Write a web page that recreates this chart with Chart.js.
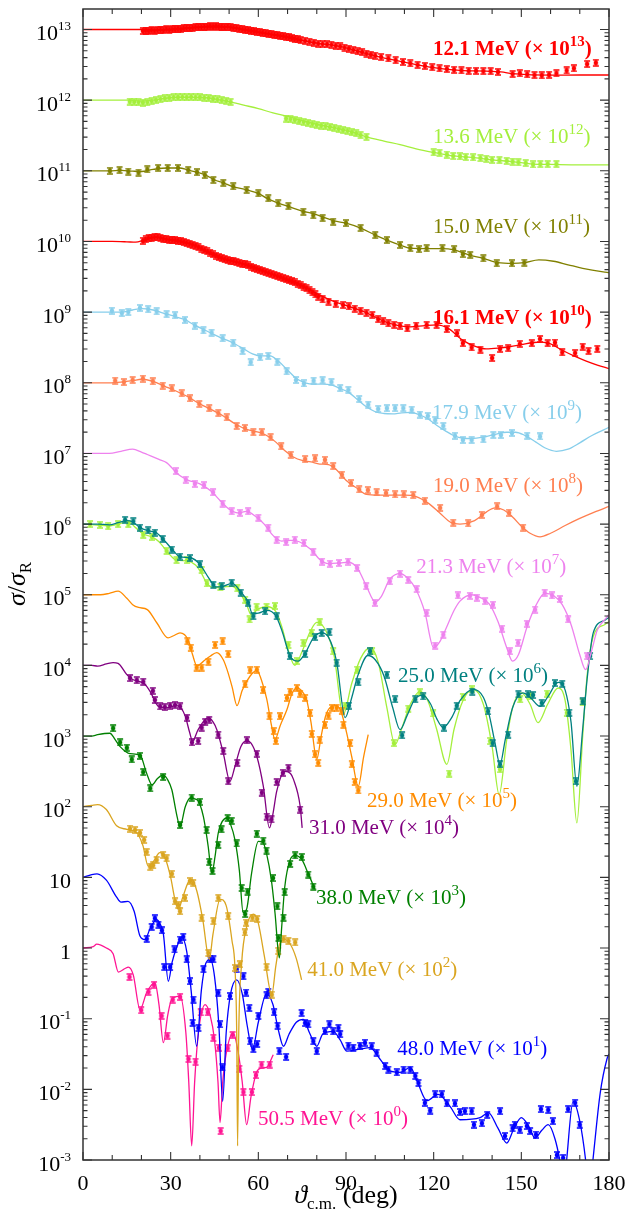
<!DOCTYPE html>
<html>
<head>
<meta charset="utf-8">
<script src="https://cdn.jsdelivr.net/npm/chart.js@4.4.1/dist/chart.umd.min.js"></script>
<style>
  html, body { margin: 0; padding: 0; background: #fff; }
  canvas { display: block; }
</style>
</head>
<body>
<canvas id="chart" width="626" height="1218"></canvas>
<script>
// all values: [angle (deg), log10 of plotted sigma/sigma_R, already multiplied by the series factor]

const xTicks = [0, 30, 60, 90, 120, 150, 180];
const yTickExps = [13, 12, 11, 10, 9, 8, 7, 6, 5, 4, 3, 2, 1, 0, -1, -2, -3];

const energies = ['12.1', '13.6', '15.0', '16.1', '17.9', '19.0', '21.3', '25.0', '29.0', '31.0', '38.0', '41.0', '48.0', '50.5'];
const factorExps = [13, 12, 11, 10, 9, 8, 7, 6, 5, 4, 3, 2, 1, 0];

// 12.1 MeV (x 10^13)
const fit121 = [[0,13.0],[10,13.0],[20,13.0],[25,12.995],[29,13.0],[35,13.02],[42,13.04],[48,13.04],[53,13.015],[56,12.99],[63,12.94],[70,12.89],[74,12.855],[81,12.80],[86,12.775],[92,12.72],[97,12.66],[105,12.58],[112,12.52],[120,12.46],[129,12.42],[138,12.41],[143,12.40],[147,12.375],[152,12.36],[160,12.355],[170,12.356],[180,12.356]];
const dat121 = [[20.5,12.98],[21.5,12.985],[22.5,12.98],[23.5,12.99],[24.5,12.985],[25.5,12.99],[26.5,12.995],[27.5,12.99],[28.5,13.0],[29.5,12.995],[30.5,13.0],[31.5,13.005],[32.5,13.01],[33.5,13.005],[34.5,13.015],[35.5,13.02],[36.5,13.02],[37.5,13.025],[38.5,13.03],[39.5,13.03],[40.5,13.035],[41.5,13.04],[42.5,13.04],[43.5,13.045],[44.5,13.04],[45.5,13.045],[46.5,13.04],[47.5,13.04],[48.5,13.035],[49.5,13.04],[50.5,13.03],[51.5,13.025],[52.5,13.02],[53.5,13.01],[54.5,13.0],[55.5,12.995],[56.5,12.99],[57.5,12.98],[58.5,12.975],[59.5,12.97],[60.5,12.96],[61.5,12.955],[62.5,12.945],[63.5,12.94],[64.5,12.93],[65.5,12.925],[66.5,12.92],[67.5,12.91],[68.5,12.905],[69.5,12.895],[70.5,12.89],[71.5,12.88],[72.5,12.87],[73.5,12.86],[74.5,12.85],[76,12.84],[77.5,12.83],[79,12.815],[80.5,12.80],[82,12.795],[83.5,12.79],[85,12.785],[86.5,12.77],[88,12.76],[89.5,12.745],[91,12.73],[92.5,12.71],[94,12.69],[95.5,12.68],[97,12.66],[98.5,12.645],[100,12.63],[102,12.61],[104.5,12.59],[107,12.565],[109.5,12.54],[112,12.52],[114.5,12.50],[117,12.485],[119.5,12.465],[122,12.45],[124.5,12.44],[127,12.43],[129.5,12.42],[132,12.415],[134.5,12.415],[137,12.41],[139.5,12.41],[142,12.40],[147,12.37],[149.5,12.38],[152,12.365],[154.5,12.355],[157,12.35],[159.5,12.36],[162,12.38],[165.5,12.42],[168,12.45],[172.5,12.51],[175.5,12.53]];

// 13.6 MeV (x 10^12)
const fit136 = [[0,12.0],[10,12.0],[16,12.0],[20,11.985],[24,12.0],[28,12.025],[32,12.04],[37,12.04],[42,12.035],[47,12.0],[50,11.98],[55,11.93],[60,11.88],[65,11.82],[70,11.77],[75,11.71],[81,11.65],[86,11.61],[92,11.55],[97,11.48],[103,11.42],[108.5,11.37],[114,11.31],[120,11.26],[127,11.21],[133,11.19],[140,11.155],[147,11.13],[154,11.095],[160,11.09],[170,11.085],[180,11.085]];
const dat136 = [[16,11.98],[17.5,11.975],[19,11.97],[20.5,11.965],[22,11.97],[23.5,11.985],[25,12.0],[26.5,12.015],[28,12.025],[29.5,12.035],[31,12.04],[32.5,12.04],[34,12.045],[35.5,12.04],[37,12.045],[38.5,12.04],[40,12.04],[41.5,12.035],[43,12.03],[44.5,12.02],[46,12.01],[47.5,12.0],[49,11.99],[50.5,11.975],[69.5,11.74],[71,11.73],[72.5,11.72],[74,11.70],[75.5,11.69],[77,11.68],[78.5,11.665],[80,11.65],[81.5,11.64],[83,11.63],[84.5,11.62],[86,11.61],[87.5,11.59],[89,11.575],[90.5,11.565],[92,11.545],[93.5,11.53],[95,11.505],[97,11.48],[120,11.26],[122,11.255],[124.5,11.23],[126.7,11.21],[129,11.205],[131,11.195],[133.5,11.19],[136,11.18],[138,11.17],[140,11.155],[142.5,11.15],[145,11.14],[147,11.13],[149,11.12],[151.5,11.11],[154,11.09],[156.5,11.095],[159,11.095],[162,11.095]];

// 15.0 MeV (x 10^11)
const fit150 = [[0,11.0],[9,11.0],[13,11.005],[17,10.995],[20,10.99],[24,11.02],[29,11.04],[33,11.04],[36,11.01],[39,10.98],[42,10.94],[45,10.87],[48,10.83],[51,10.78],[56,10.73],[60,10.68],[63,10.61],[67,10.54],[70,10.50],[75,10.43],[79,10.39],[86,10.29],[90,10.26],[95,10.19],[100,10.09],[104,10.02],[108.5,9.95],[112,9.905],[117,9.9],[123,9.9],[127,9.88],[132,9.81],[137,9.76],[142,9.70],[147,9.69],[151,9.70],[156,9.74],[161,9.72],[166,9.67],[171,9.62],[178,9.57],[180,9.56]];
const dat150 = [[9.2,11.0],[12.5,11.01],[15.5,10.99],[19,10.976],[22,11.02],[25.7,11.04],[29,11.04],[32.5,11.04],[36,11.01],[39,10.98],[41.7,10.94],[44.6,10.87],[48,10.83],[51.4,10.78],[56,10.73],[60,10.68],[63.4,10.61],[66.8,10.54],[70.3,10.50],[75.4,10.42],[78.8,10.37],[82,10.33],[85.6,10.28],[90,10.26],[95,10.19],[100,10.09],[104,10.02],[108.5,9.95],[112,9.905],[115,9.89],[117.6,9.905],[123,9.905],[127,9.89],[130,9.82],[132.5,9.81],[137,9.76],[141.6,9.69],[146.8,9.69],[151,9.70]];

// 16.1 MeV (x 10^10)
const fit161 = [[0,10.0],[10,10.0],[15,9.995],[18,9.99],[21,10.02],[25,10.06],[29,10.03],[33,10.0],[38,9.95],[42,9.86],[47,9.77],[51,9.72],[56,9.67],[62,9.58],[67,9.50],[73,9.41],[78,9.31],[81,9.24],[86,9.15],[91,9.08],[97,8.99],[103,8.87],[108,8.81],[112,8.79],[117,8.81],[121,8.82],[125,8.77],[130,8.60],[134,8.52],[138,8.48],[142,8.49],[146,8.51],[150,8.54],[154,8.57],[157,8.575],[160,8.55],[164,8.46],[168,8.38],[172,8.31],[176,8.25],[180,8.20]];
const dat161 = [[20.5,10.01],[21.5,10.03],[22.5,10.05],[23.5,10.055],[24.5,10.06],[25.5,10.06],[26.5,10.05],[27.5,10.04],[28.5,10.03],[29.5,10.025],[30.5,10.02],[31.5,10.015],[32.5,10.01],[33.5,10.0],[34.5,9.99],[35.5,9.98],[36.5,9.97],[37.5,9.955],[38.5,9.94],[39.5,9.92],[40.5,9.90],[41.5,9.88],[42.5,9.86],[43.5,9.84],[44.5,9.82],[45.5,9.80],[46.5,9.78],[47.5,9.765],[48.5,9.75],[49.5,9.74],[50.5,9.73],[51.5,9.72],[52.5,9.71],[53.5,9.70],[54.5,9.685],[55.5,9.675],[56.5,9.66],[57.5,9.645],[58.5,9.63],[59.5,9.615],[60.5,9.60],[61.5,9.585],[62.5,9.57],[63.5,9.555],[64.5,9.54],[65.5,9.525],[66.5,9.51],[67.5,9.50],[68.5,9.48],[69.5,9.465],[70.5,9.45],[71.5,9.435],[72.5,9.42],[73.5,9.40],[74.5,9.38],[75.5,9.36],[76.5,9.34],[77.5,9.31],[78.5,9.28],[79.5,9.25],[80.5,9.22],[82,9.18],[84,9.15],[86.5,9.12],[89,9.10],[91,9.08],[93,9.05],[95,9.02],[97,8.99],[99,8.96],[101,8.90],[102.7,8.87],[104.5,8.84],[106.5,8.82],[108.5,8.81],[111,8.77],[114,8.81],[117.6,8.82],[121,8.82],[124.5,8.76],[128,8.70],[130,8.56],[133,8.50],[136,8.47],[140,8.35],[142.7,8.48],[145.5,8.49],[149.5,8.55],[153.6,8.56],[156.4,8.62],[159,8.56],[161.5,8.57],[164,8.43],[168.4,8.42],[171,8.51],[173,8.45],[176,8.48]];

// 17.9 MeV (x 10^9)
const fit179 = [[0,9.0],[9,9.0],[13,9.0],[17,9.03],[20,9.05],[24,9.03],[28,8.98],[32,8.93],[35,8.89],[38,8.82],[42,8.74],[47,8.64],[51,8.57],[55,8.48],[58,8.41],[61,8.38],[64,8.38],[67,8.30],[70,8.18],[73,8.06],[76,8.0],[79,7.98],[82,7.98],[85,7.97],[88,7.92],[91,7.86],[94,7.76],[97,7.66],[100,7.59],[103,7.565],[106,7.56],[109,7.575],[112,7.58],[115,7.55],[118,7.49],[121,7.40],[124,7.32],[127,7.25],[130,7.215],[133,7.21],[137,7.23],[141,7.27],[145,7.30],[148,7.30],[151,7.26],[155,7.16],[158,7.08],[162,7.03],[166,7.06],[170,7.15],[174,7.25],[178,7.33],[180,7.37]];
const dat179 = [[9.9,9.02],[13.3,8.985],[15.5,9.0],[19.5,9.06],[22.3,9.04],[25.2,9.01],[28.6,8.97],[31.5,8.955],[34.9,8.89],[38.3,8.81],[41.2,8.74],[44,8.71],[47.8,8.63],[51.4,8.57],[54.6,8.45],[57.4,8.29],[60.6,8.36],[63.4,8.38],[66.5,8.30],[69.7,8.16],[72.9,8.04],[75.6,7.99],[78.9,8.03],[82,8.035],[85,8.01],[88,7.925],[90.8,7.90],[94.5,7.77],[97.6,7.69],[101,7.63],[104,7.64],[106.8,7.64],[109.6,7.64],[112.5,7.62],[115.3,7.55],[118,7.53],[120.5,7.47],[123.3,7.39],[127.3,7.25],[130,7.19],[133,7.19],[137,7.20],[140.4,7.26],[143,7.26],[146.8,7.29],[152,7.25],[156.4,7.24]];

// 19.0 MeV (x 10^8)
const fit190 = [[0,8.0],[9,8.0],[13,8.01],[17,8.03],[20,8.05],[24,8.02],[28,7.95],[32,7.88],[36,7.80],[40,7.70],[44,7.62],[48,7.53],[52,7.42],[56,7.34],[60,7.30],[63,7.25],[66,7.16],[69,7.04],[72,6.95],[75,6.90],[78,6.88],[81,6.85],[84,6.84],[87,6.76],[90,6.62],[94,6.50],[97,6.42],[101,6.41],[106,6.41],[110,6.41],[114,6.39],[118,6.30],[122,6.16],[126,6.02],[129,6.0],[134,6.05],[138,6.17],[141,6.23],[144,6.20],[147,6.10],[150,5.97],[153,5.87],[156.4,5.82],[160,5.87],[165,5.98],[170,6.08],[175,6.17],[180,6.25]];
const dat190 = [[11,8.03],[14,8.01],[17,8.04],[20.5,8.06],[23.9,8.02],[27.3,7.96],[30.4,7.92],[33.8,7.85],[36.6,7.78],[39.8,7.70],[43.2,7.64],[46.3,7.57],[49.2,7.51],[52.6,7.39],[55.4,7.36],[58.3,7.30],[61.2,7.30],[64.2,7.23],[67.8,7.10],[71.1,6.98],[76,6.92],[79.4,6.93],[82.8,6.91],[85.6,6.82],[88.6,6.70],[91.7,6.58],[94.5,6.49],[97.5,6.48],[100.5,6.45],[103.7,6.44],[106.8,6.42],[109.8,6.42],[113,6.41],[117,6.33],[122.2,6.23],[126.7,6.02],[131.8,6.01],[136.5,6.13],[141.7,6.25],[145.8,6.16],[150.6,5.95]];

// 21.3 MeV (x 10^7)
const fit213 = [[0,7.0],[9,7.0],[13,7.03],[17,7.06],[20,7.02],[22,6.985],[26,6.915],[28.6,6.87],[31,6.77],[33,6.69],[36,6.62],[40,6.57],[44,6.46],[47,6.33],[50,6.21],[53,6.16],[56,6.18],[59,6.11],[62,6.0],[65,5.84],[68,5.76],[71,5.77],[74,5.75],[78,5.64],[81,5.50],[84,5.44],[88,5.45],[91,5.46],[94,5.37],[97,5.12],[100,4.90],[102,4.97],[105,5.22],[108.5,5.30],[111,5.24],[114,5.07],[117,4.75],[120,4.25],[122,4.33],[124,4.50],[127,4.78],[129,4.91],[133,5.0],[136,4.96],[139,4.87],[142,4.62],[145,4.25],[147,4.06],[149,4.15],[152,4.55],[155,4.85],[158,5.02],[161,4.99],[164,4.86],[167,4.58],[170,4.15],[172,3.94],[174,4.2],[176,4.5],[178.6,4.65],[180,4.72]];
const dat213 = [[31.8,6.75],[35.2,6.63],[38.3,6.57],[41.4,6.55],[44.5,6.45],[47.8,6.29],[50.9,6.18],[53.7,6.16],[56.5,6.18],[60,6.09],[63.4,5.95],[66.3,5.78],[69.5,5.745],[72.5,5.78],[75.6,5.735],[78.8,5.61],[81.8,5.47],[84.5,5.44],[87.6,5.45],[90.7,5.47],[93.8,5.38],[96.9,5.12],[99.9,4.885],[105,5.19],[108.5,5.30],[111.3,5.21],[114.2,5.08],[117.6,4.74],[120.5,4.28],[123.3,4.435],[128.3,4.99],[132.4,4.985],[134.8,4.96],[137.6,4.91],[140.3,4.86],[143.4,4.52],[146.1,4.20],[148.9,4.32],[151.9,4.59],[154.7,4.79],[158,5.03],[160.5,4.99],[163.2,4.94],[166,4.65],[172.5,4.13]];

// 25.0 MeV (x 10^6), teal set
const fit250 = [[0,6.0],[5,6.0],[9,5.99],[12,6.02],[15,6.05],[17,6.03],[19.5,5.95],[23,5.90],[25,5.88],[28,5.76],[31,5.62],[33,5.54],[37,5.52],[40,5.43],[43,5.24],[45.5,5.11],[48,5.12],[51,5.16],[54,5.04],[56.5,4.90],[58,4.73],[60,4.74],[63,4.78],[66,4.70],[68,4.50],[71,4.12],[73.6,4.06],[76,4.17],[79,4.40],[81.7,4.46],[84,4.40],[86.8,4.05],[89.7,3.26],[92,3.55],[94,3.85],[97.5,4.14],[100,4.08],[103,3.85],[106,3.40],[108.5,3.09],[111,3.30],[113.5,3.52],[116.3,3.58],[119,3.45],[121,3.25],[123.3,3.12],[126,3.25],[129,3.50],[133.5,3.66],[137,3.55],[139,3.30],[141,2.90],[142.7,2.60],[144.5,2.95],[147,3.40],[150.5,3.61],[153,3.55],[156.4,3.42],[159,3.55],[162.6,3.76],[165,3.65],[167,3.20],[169,2.29],[171,3.10],[172.5,3.80],[174.6,4.46],[178.6,4.64],[180,4.68]];
const dat250 = [[14.4,6.06],[17.2,6.04],[19.5,5.95],[22.3,5.91],[24.6,5.88],[27.3,5.79],[30.4,5.64],[33.2,5.54],[36.6,5.52],[40,5.43],[44.6,5.14],[47.5,5.12],[50.9,5.17],[54,5.03],[56.5,4.89],[58.3,4.695],[62.3,4.765],[66.3,4.695],[70.8,4.13],[76,4.16],[79.4,4.40],[81.7,4.46],[84.3,4.47],[86.8,4.04],[91,3.43],[94.2,3.76],[98.2,4.20],[104,3.87],[106.8,3.52],[109.2,3.01],[113.7,3.52],[116.4,3.56],[123.5,3.12],[127.9,3.43],[133.2,3.63],[138.6,3.35],[140.2,2.90],[142.7,2.60],[145.5,3.02],[149,3.59],[152.3,3.59],[154,3.58],[157,3.47],[161.5,3.75],[164,3.74],[166.4,3.33],[168.7,2.36],[171,3.49],[173.5,4.13]];

// 25.0 MeV (x 10^6), second (light green) set
const fit250b = [[0,6.0],[5,5.985],[9,5.975],[12,6.0],[15.5,6.03],[18,5.95],[20.6,5.86],[23.6,5.82],[26,5.75],[28.6,5.62],[32,5.49],[35.6,5.48],[38.5,5.42],[40.6,5.30],[42.4,5.16],[45,5.10],[48,5.11],[51,5.12],[53,5.06],[56,4.86],[57.5,4.72],[60,4.80],[63,4.83],[66,4.76],[68,4.55],[70,4.25],[72.5,4.0],[75,4.20],[78,4.50],[80,4.61],[83,4.50],[86,4.12],[89,3.30],[92,3.75],[95,4.10],[98.2,4.25],[101,4.05],[104,3.40],[106.8,2.88],[109,3.10],[112,3.45],[115.3,3.63],[118,3.50],[121,3.10],[124.5,2.60],[127,3.10],[130,3.50],[133.5,3.66],[137,3.45],[140,2.85],[142.4,2.17],[145,2.95],[147,3.40],[150,3.61],[153,3.45],[155.7,3.19],[159,3.45],[162.6,3.68],[165,3.50],[167,2.80],[169,1.77],[171,3.00],[172.5,3.85],[174.6,4.41],[178.6,4.58],[180,4.62]];
const dat250b = [[2.4,6.0],[5.8,5.99],[8.6,5.97],[12,6.0],[15.5,6.0],[20.6,5.85],[23.6,5.82],[28.6,5.62],[32,5.49],[35.6,5.49],[40.6,5.35],[42.4,5.16],[47,5.11],[52.8,5.09],[55.5,4.93],[57,4.65],[59.4,4.83],[62.8,4.83],[65.7,4.84],[70.3,4.29],[73.2,4.06],[75.4,4.32],[78.3,4.46],[81,4.61],[85.6,4.20],[89.7,3.43],[93.8,3.94],[98.9,4.20],[106.4,2.90],[111.3,3.39],[115.3,3.62],[119.8,3.32],[125.3,2.47],[130,3.555],[133.1,3.66],[139.3,2.93],[142.7,2.53],[149.6,3.52],[153,3.57],[158.8,3.60],[165.6,3.33],[171,3.48]];

// 29.0 MeV (x 10^5)
const fit290 = [[0,5.0],[6,5.0],[9,5.02],[12,5.05],[15,4.95],[17,4.86],[19,4.82],[22,4.79],[25.3,4.60],[29.1,4.39],[31,4.42],[33.2,4.46],[36,4.36],[37.5,4.15],[39,3.99],[41,4.05],[43.5,4.13],[45.8,4.18],[48,4.08],[49.3,3.94],[51,3.70],[52.7,3.43],[54.5,3.65],[57.2,3.85],[59.5,3.93],[61,3.80],[62.9,3.52],[64.5,3.15],[65.7,2.95],[67.5,3.15],[69.8,3.375],[71.5,3.60],[73.2,3.68],[75,3.63],[76.5,3.52],[78,3.2],[80,2.67],[81.5,3.0],[83,3.28],[84.5,3.40],[86.8,3.43],[88.5,3.32],[90.2,3.05],[92,2.70],[94.2,2.29],[96,2.70],[97.6,3.02]];
const dat290 = [[35.7,4.34],[36.9,4.25],[38.9,3.97],[40.6,3.97],[42.9,4.05],[45.2,4.29],[47.8,4.34],[49.7,4.16],[55.5,3.73],[57.2,3.93],[59.5,3.94],[61.6,3.65],[63.8,3.28],[65.3,3.07],[66,2.93],[67.4,3.28],[69.8,3.54],[70.9,3.63],[73.2,3.68],[74.3,3.60],[76,3.54],[77.7,3.33],[78.3,3.03],[79.4,2.74],[80.5,2.62],[81,2.95],[82.8,3.16],[84,3.29],[85.2,3.40],[86.8,3.40],[88.6,3.36],[89.1,3.16],[91.4,2.90],[92,2.60],[93,2.35],[94.2,2.23]];

// 31.0 MeV (x 10^4)
const fit310 = [[0,4.0],[3,4.0],[5,3.99],[8,4.02],[10.3,4.04],[12,4.03],[15,3.87],[17,3.80],[19.5,3.77],[21,3.74],[23,3.63],[25.8,3.42],[28.6,3.40],[32,3.43],[33.5,3.40],[35,3.28],[36.5,3.05],[37.5,2.93],[39.4,3.09],[42.9,3.26],[44.5,3.20],[45.8,3.09],[48,2.76],[50.3,2.36],[52,2.57],[54,2.85],[56,2.93],[57.5,2.90],[59.5,2.71],[61.7,2.29],[63.8,1.70],[65,1.90],[66.3,2.22],[69.1,2.50],[71,2.47],[72,2.39],[74.3,2.01],[75,1.70]];
const dat310 = [[16.1,3.82],[18.4,3.79],[20.6,3.77],[23.9,3.64],[24.6,3.51],[26.4,3.42],[28,3.41],[29.8,3.43],[31.5,3.44],[33.2,3.42],[35.6,3.26],[37.3,2.91],[39.4,2.93],[40.6,3.12],[41.8,3.20],[43.2,3.23],[46.3,3.02],[48,2.79],[49.7,2.36],[52.8,2.62],[56.1,2.94],[59.5,2.75],[61.2,2.20],[62.9,1.86],[64.5,1.82],[66.3,2.35],[68.4,2.48],[70.3,2.55],[74.3,1.96]];

// 38.0 MeV (x 10^3)
const fit380 = [[0,3.0],[3,3.0],[5,3.02],[9.2,3.04],[11,2.95],[12.7,2.85],[16.1,2.75],[19.5,2.73],[21.8,2.47],[23.6,2.31],[25.5,2.40],[27.4,2.45],[29,2.38],[30.4,2.24],[32,1.90],[33.2,1.72],[35,2.0],[36.6,2.12],[39,2.10],[41.2,1.86],[42.8,1.45],[44.1,1.06],[45.2,1.30],[46.3,1.63],[49.2,1.84],[50.5,1.75],[52,1.53],[53.5,1.10],[54.8,0.50],[56,0.55],[57.7,1.06],[60,1.51],[61.5,1.50],[62.8,1.34],[64.5,0.95],[65.7,0.50],[67.2,-0.14],[68,0.30],[69,0.85],[70.9,1.25],[72.5,1.31],[74.9,1.25],[77,1.06],[79.4,0.83]];
const dat380 = [[10.3,3.11],[12.7,2.91],[15,2.835],[16.7,2.67],[19.5,2.72],[20.6,2.49],[23,2.26],[27.4,2.42],[33.2,1.74],[37.2,2.13],[40,2.07],[42.3,1.67],[43.2,1.22],[44.3,1.09],[46.3,1.46],[47.4,1.68],[49.5,1.84],[50.9,1.80],[52.6,1.48],[54.3,0.85],[55.5,0.48],[56.3,0.80],[59.5,1.62],[61.7,1.52],[62.8,1.38],[65,0.99],[66.5,0.59],[66.9,0.145],[68.6,0.43],[69,0.79],[70.9,1.19],[72.6,1.31],[74.9,1.29],[77.1,1.04],[78.8,0.87]];

// 41.0 MeV (x 10^2)
const fit410 = [[0,2.0],[3,2.02],[5,2.03],[8,1.96],[11.5,1.73],[15,1.68],[18.4,1.63],[20.5,1.45],[22.3,1.16],[24,1.22],[26.3,1.35],[28,1.28],[30,1.0],[31.5,0.68],[32.6,0.55],[34,0.70],[36,0.93],[37.3,0.97],[39,0.80],[41,0.40],[43.2,-0.16],[44.5,0.20],[46.9,0.69],[49,0.60],[51,0.10],[52,-0.28],[52.6,-1.2],[52.9,-2.80],[53.3,-1.2],[54.3,-0.21],[56,0.30],[58.3,0.48],[60,0.35],[62,-0.10],[64.6,-0.66],[66,-0.25],[67.4,0.07],[69.1,0.12],[71,0.05],[73,-0.15],[74.8,-0.45]];
const dat410 = [[16.1,1.69],[17.8,1.67],[19.5,1.63],[20.9,1.53],[21.8,1.36],[23,1.15],[24,1.17],[25.2,1.245],[27.4,1.32],[28.6,1.27],[30.4,1.05],[31.5,0.66],[32.6,0.61],[33.2,0.52],[34.9,0.71],[36.6,0.95],[37.7,0.92],[40.6,0.43],[42.9,-0.07],[44.6,0.38],[46.3,0.71],[49.7,0.45],[52,-0.28],[53.7,-0.23],[55.4,0.22],[55.8,0.36],[58,0.43],[59.6,0.41],[62.8,-0.27],[64.6,-0.66],[66.8,-0.04],[68.6,0.13],[70.3,0.10],[72.6,0.08]];

// 48.0 MeV (x 10^1)
const fit480 = [[0,1.0],[3,1.04],[4.8,1.05],[8,0.96],[11.5,0.72],[13,0.65],[15.4,0.66],[17.5,0.52],[19.5,0.17],[21.2,0.12],[23,0.28],[25.2,0.40],[26.5,0.33],[27.5,0.20],[29.2,-0.47],[30.5,-0.20],[32,0.0],[33.8,0.15],[35.5,-0.05],[37,-0.60],[38.9,-1.39],[40.5,-0.60],[42,-0.22],[43.5,-0.16],[45,-0.40],[46.5,-1.10],[47.8,-2.17],[49,-1.20],[50.5,-0.65],[52.6,-0.45],[54.5,-0.65],[56.2,-1.10],[58,-1.43],[60,-1.05],[62.8,-0.65],[65,-0.80],[66.8,-1.15],[68.6,-1.39],[70.5,-1.22],[73,-1.05],[75.4,-1.01],[77.5,-1.20],[80,-1.39],[82,-1.22],[85.6,-1.18],[88,-1.30],[90.3,-1.46],[94.8,-1.43],[98.2,-1.41],[101.6,-1.57],[105,-1.74],[108.5,-1.76],[112,-1.69],[114.3,-1.88],[117.7,-2.16],[121.5,-2.07],[125.6,-2.24],[129,-2.43],[135.9,-2.40],[138.7,-2.33],[142,-2.55],[145,-2.76],[147.5,-2.55],[150,-2.40],[152.5,-2.52],[154.7,-2.69],[157,-2.58],[159.2,-2.50],[161.5,-2.70],[163.3,-3.04],[164.5,-3.4],[165.5,-3.0],[167.7,-2.17],[170,-2.45],[172,-3.0],[173.2,-3.5],[174.5,-3.0],[177,-2.05],[179.3,-1.57],[180,-1.5]];
const dat480 = [[21.8,0.13],[23.5,0.30],[24.6,0.42],[25.8,0.33],[27,0.25],[27.8,-0.27],[29.8,-0.27],[31.3,-0.02],[33.2,0.12],[34.3,0.16],[35.5,-0.16],[36.6,-0.47],[37.5,-1.06],[37.8,-0.73],[39.5,-1.13],[41.2,-0.30],[43.5,-0.16],[44.6,-0.16],[46.3,-0.63],[46.9,-1.08],[47.7,-1.69],[50.3,-0.68],[52.6,-0.30],[54.9,-0.40],[55.8,-0.63],[56.9,-0.85],[57.2,-1.32],[58.3,-1.43],[59.6,-1.36],[60,-0.96],[62.8,-0.67],[63.4,-0.62],[65.4,-0.91],[66.6,-1.10],[67.2,-1.46],[69.5,-1.54],[74.8,-0.92],[76,-1.06],[77.1,-1.08],[78.8,-1.32],[80,-1.46],[82.8,-1.18],[84.3,-1.08],[85.6,-1.18],[87.4,-1.13],[88,-1.22],[90.8,-1.38],[92.5,-1.41],[94.8,-1.38],[96.5,-1.34],[98.8,-1.39],[100.5,-1.48],[103.4,-1.67],[104.5,-1.72],[107.4,-1.76],[109.7,-1.72],[112,-1.72],[113.7,-1.81],[114.8,-1.91],[117,-2.19],[118.8,-2.30],[120.5,-2.07],[122.8,-2.07],[124.5,-2.20],[127.3,-2.20],[129,-2.32],[130.7,-2.31],[133,-2.31],[133.8,-2.50],[136.5,-2.48],[138.3,-2.36],[142.7,-2.31],[144.4,-2.66],[147,-2.55],[147.8,-2.50],[149.5,-2.57],[151.9,-2.52],[153,-2.59],[155,-2.64],[156.7,-2.28],[159.2,-2.29],[160.8,-2.45],[162.2,-2.93],[164.3,-2.97],[166,-2.28],[168.4,-2.19],[170,-2.50]];

// 50.5 MeV (x 10^0)
const fit505 = [[0,0.0],[3.5,0.02],[4.7,0.055],[8,0.0],[10.3,-0.08],[12.1,-0.34],[14.4,-0.29],[15.5,-0.27],[17.2,-0.38],[19.5,-0.87],[21.8,-0.63],[24.6,-0.49],[26,-0.80],[27.5,-1.34],[29,-0.95],[30.3,-0.73],[33.2,-0.68],[35.2,-1.2],[36.2,-1.9],[37.2,-2.80],[38.2,-1.9],[39.5,-1.20],[41.8,-0.80],[43.5,-0.95],[45,-1.3],[46.2,-1.9],[46.9,-2.47],[47.8,-1.9],[49.2,-1.45],[51.4,-1.20],[53,-1.45],[54.5,-1.9],[56,-2.50],[57.5,-2.1],[59.4,-1.76],[61,-1.70],[62.8,-1.69],[65.1,-1.51]];
const dat505 = [[15.9,-0.41],[19.9,-0.88],[22.4,-0.62],[24.3,-0.52],[26.9,-0.96],[28.9,-1.24],[30.7,-0.73],[33.2,-0.69],[36.1,-1.57],[38.5,-1.61],[40.3,-0.91],[42.7,-0.91],[44.6,-1.27],[46.5,-1.41],[47.1,-2.59],[49.5,-1.42],[51.2,-1.23],[53.5,-1.71],[54.9,-2.04],[57.8,-2.04],[59.2,-1.80],[61.1,-1.65],[63.9,-1.65]];

// where each series label starts: [angle, log10 value of baseline]
const labelAt = [[119.8,12.64],[119.8,11.39],[119.8,10.12],[119.8,8.83],[119.4,7.49],[119.8,6.46],[114,5.31],[107.8,3.77],[97.2,2.0],[77.3,1.61],[79.7,0.62],[76.7,-0.39],[107.5,-1.52],[59.9,-2.51]];

const series = [
  { fit: fit121, dat: dat121, color: '#ff0000', bold: true },
  { fit: fit136, dat: dat136, color: '#a4ef3c' },
  { fit: fit150, dat: dat150, color: '#808000' },
  { fit: fit161, dat: dat161, color: '#ff0000', bold: true },
  { fit: fit179, dat: dat179, color: '#87ceeb' },
  { fit: fit190, dat: dat190, color: '#ff7f50' },
  { fit: fit213, dat: dat213, color: '#ee82ee' },
  { fit: fit250, dat: dat250, color: '#008080' },
  { fit: fit290, dat: dat290, color: '#ff8c00' },
  { fit: fit310, dat: dat310, color: '#800080' },
  { fit: fit380, dat: dat380, color: '#008000' },
  { fit: fit410, dat: dat410, color: '#daa520' },
  { fit: fit480, dat: dat480, color: '#0000ff' },
  { fit: fit505, dat: dat505, color: '#ff1493' }
];
const extra25 = { fit: fit250b, dat: dat250b, color: '#a4ef3c' };

const SERIF = '"Liberation Serif", "DejaVu Serif", serif';

// small error-bar marker: dot with caps
function marker(color) {
  const c = document.createElement('canvas');
  c.width = 8; c.height = 8;
  const g = c.getContext('2d');
  g.strokeStyle = color; g.fillStyle = color; g.lineWidth = 1.3;
  g.beginPath();
  g.moveTo(1, 1); g.lineTo(7, 1);
  g.moveTo(1, 7); g.lineTo(7, 7);
  g.moveTo(4, 1); g.lineTo(4, 7);
  g.stroke();
  g.beginPath(); g.arc(4, 4, 2.3, 0, Math.PI * 2); g.fill();
  return c;
}

const toPts = arr => arr.map(p => ({ x: p[0], y: Math.pow(10, p[1]) }));

const datasets = [];
function addSeries(s) {
  datasets.push({
    data: toPts(s.fit), showLine: true, borderColor: s.color, borderWidth: 1.3,
    pointRadius: 0, cubicInterpolationMode: 'monotone', clip: 0
  });
  datasets.push({
    data: toPts(s.dat), showLine: false, pointStyle: marker(s.color),
    pointRadius: 4, borderColor: s.color, backgroundColor: s.color, clip: 0
  });
}
series.forEach(addSeries);
addSeries(extra25);

// draw a row of text pieces, each [text, font, dy]
function richWidth(ctx, parts) {
  let w = 0;
  parts.forEach(p => { ctx.font = p[1]; w += ctx.measureText(p[0]).width; });
  return w;
}
function richDraw(ctx, parts, x, y) {
  parts.forEach(p => {
    ctx.font = p[1];
    ctx.fillText(p[0], x, y + (p[2] || 0));
    x += ctx.measureText(p[0]).width;
  });
}

const decorations = {
  id: 'decorations',
  afterDatasetsDraw(chart) {
    const { ctx, chartArea: a, scales: { x, y } } = chart;
    ctx.save();
    ctx.textBaseline = 'alphabetic';

    // frame
    ctx.strokeStyle = '#333';
    ctx.lineWidth = 1.5;
    ctx.strokeRect(a.left, a.top, a.right - a.left, a.bottom - a.top);

    // ticks, pointing inward
    ctx.lineWidth = 1.1;
    ctx.beginPath();
    for (let d = 0; d <= 180; d += 10) {
      const px = x.getPixelForValue(d);
      const len = d % 30 === 0 ? 8 : 5;
      ctx.moveTo(px, a.bottom); ctx.lineTo(px, a.bottom - len);
      ctx.moveTo(px, a.top); ctx.lineTo(px, a.top + len);
    }
    for (let e = -3; e <= 13; e++) {
      for (let m = 1; m <= 9; m++) {
        const v = m * Math.pow(10, e);
        if (v > y.max) break;
        const py = y.getPixelForValue(v);
        const len = m === 1 ? 9 : 4.5;
        ctx.moveTo(a.left, py); ctx.lineTo(a.left + len, py);
        ctx.moveTo(a.right, py); ctx.lineTo(a.right - len, py);
      }
    }
    ctx.stroke();

    // tick labels
    ctx.fillStyle = '#000';
    const big = '22px ' + SERIF, sup = '13px ' + SERIF;
    yTickExps.forEach(e => {
      const py = y.getPixelForValue(Math.pow(10, e)) + 10.5;
      let parts;
      if (e === 0) parts = [['1', big]];
      else if (e === 1) parts = [['10', big]];
      else parts = [['10', big], [String(e), sup, -10]];
      const w = richWidth(ctx, parts);
      richDraw(ctx, parts, a.left - 12 - w, py);
    });
    ctx.textAlign = 'center';
    ctx.font = big;
    xTicks.forEach(d => ctx.fillText(String(d), x.getPixelForValue(d), a.bottom + 30));
    ctx.textAlign = 'left';

    // axis titles
    const tf = '26px ' + SERIF, ti = 'italic 26px ' + SERIF, ts = '17px ' + SERIF;
    const xt = [['\u03D1', ti], ['c.m.', ts, 6], [' (deg)', tf]];
    richDraw(ctx, xt, (a.left + a.right) / 2 - richWidth(ctx, xt) / 2, 1203);
    const yt = [['\u03C3', ti], ['/', tf], ['\u03C3', ti], ['R', ts, 6]];
    ctx.save();
    ctx.translate(25, 584);
    ctx.rotate(-Math.PI / 2);
    richDraw(ctx, yt, -richWidth(ctx, yt) / 2, 0);
    ctx.restore();

    // series labels
    series.forEach((s, i) => {
      const w = s.bold ? 'bold ' : '';
      const parts = [
        [energies[i] + ' MeV (\u00D7 10', w + '21px ' + SERIF],
        [String(factorExps[i]), w + '15px ' + SERIF, -9],
        [')', w + '21px ' + SERIF]
      ];
      ctx.fillStyle = s.color;
      const p = labelAt[i];
      richDraw(ctx, parts, x.getPixelForValue(p[0]), y.getPixelForValue(Math.pow(10, p[1])));
    });
    ctx.restore();
  }
};

new Chart(document.getElementById('chart'), {
  type: 'scatter',
  data: { datasets },
  options: {
    responsive: false,
    animation: false,
    devicePixelRatio: 1,
    layout: { padding: { left: 83, right: 17, top: 9, bottom: 58 } },
    scales: {
      x: { type: 'linear', min: 0, max: 180, display: false },
      y: { type: 'logarithmic', min: 1e-3, max: 1.95e13, display: false }
    },
    plugins: { legend: { display: false }, tooltip: { enabled: false } }
  },
  plugins: [decorations]
});
</script>
</body>
</html>
